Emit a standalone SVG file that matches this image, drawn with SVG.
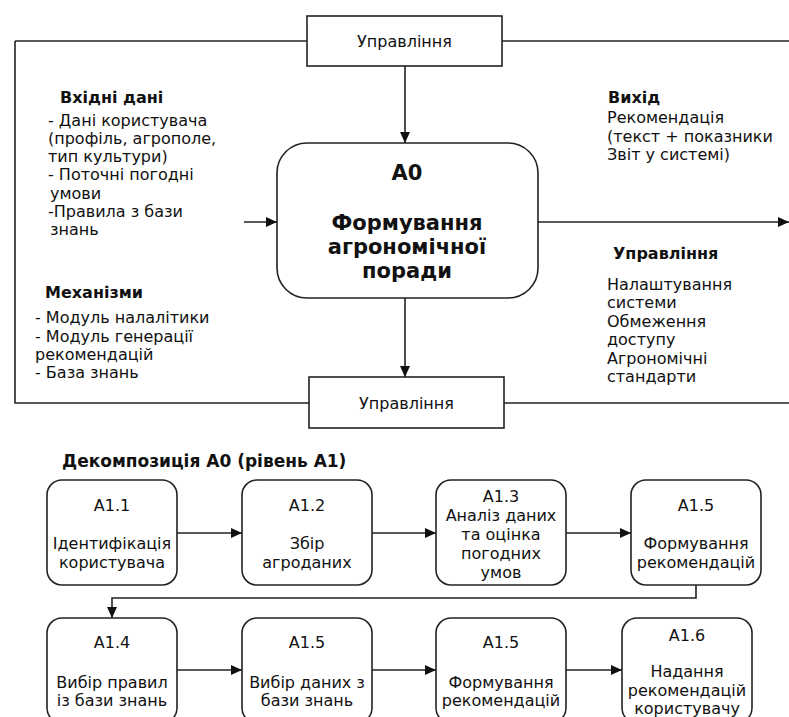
<svg xmlns="http://www.w3.org/2000/svg" width="789" height="717" viewBox="0 0 789 717">
<defs>
<marker id="arr" markerUnits="userSpaceOnUse" markerWidth="12" markerHeight="10" refX="11" refY="5" orient="auto">
<path d="M0,0 L11,5 L0,10 Z" fill="#111"/>
</marker>
<style>
.ln{fill:none;stroke:#222;stroke-width:1.6}
.ar{fill:none;stroke:#222;stroke-width:1.6;marker-end:url(#arr)}
.box{fill:#fff;stroke:#222;stroke-width:1.6}
.t{font-family:"DejaVu Sans","Liberation Sans",sans-serif;font-size:16px;fill:#111}
.b{font-family:"DejaVu Sans","Liberation Sans",sans-serif;font-size:16px;font-weight:bold;fill:#111}
.big{font-family:"DejaVu Sans","Liberation Sans",sans-serif;font-size:21px;font-weight:bold;fill:#111}
.c{text-anchor:middle}
</style>
</defs>
<rect width="789" height="717" fill="#fff"/>
<g id="connectors">
<path class="ln" d="M15,41 H307"/>
<path class="ln" d="M502,41 H789"/>
<path class="ln" d="M15,41 V403 H309"/>
<path class="ln" d="M504,403 H789"/>
<path class="ar" d="M405,66 V143"/>
<path class="ar" d="M405,298 V377"/>
<path class="ar" d="M244,222 H277"/>
<path class="ar" d="M538,222 H789"/>
<path class="ar" d="M177,533 H242"/>
<path class="ar" d="M372,533 H436"/>
<path class="ar" d="M566,533 H631"/>
<path class="ar" d="M696,585 V598 H112 V618"/>
<path class="ar" d="M177,670 H242"/>
<path class="ar" d="M372,670 H436"/>
<path class="ar" d="M566,670 H622"/>
</g>
<g id="ctrl-top">
<rect class="box" x="307" y="16" width="195" height="50"/>
<text class="t c" x="404.5" y="47">Управління</text>
</g>
<g id="ctrl-bottom">
<rect class="box" x="309" y="377" width="195" height="51"/>
<text class="t c" x="406.5" y="409">Управління</text>
</g>
<g id="a0">
<rect class="box" x="277" y="143" width="261" height="155" rx="30"/>
<text class="big c" x="407" y="180">A0</text>
<text class="big c" x="407" y="230">Формування</text>
<text class="big c" x="407" y="254">агрономічної</text>
<text class="big c" x="407" y="278">поради</text>
</g>
<g id="inputs">
<text class="b" x="60" y="103">Вхідні дані</text>
<text class="t" x="48" y="126">- Дані користувача</text>
<text class="t" x="48" y="144">(профіль, агрополе,</text>
<text class="t" x="48" y="162">тип культури)</text>
<text class="t" x="48" y="180">- Поточні погодні</text>
<text class="t" x="50" y="199">умови</text>
<text class="t" x="48" y="217">-Правила з бази</text>
<text class="t" x="50" y="235">знань</text>
</g>
<g id="mechanisms">
<text class="b" x="45" y="298">Механізми</text>
<text class="t" x="35" y="323">- Модуль налалітики</text>
<text class="t" x="35" y="342">- Модуль генерації</text>
<text class="t" x="35" y="360">рекомендацій</text>
<text class="t" x="35" y="378">- База знань</text>
</g>
<g id="output">
<text class="b" x="608" y="103">Вихід</text>
<text class="t" x="607" y="123">Рекомендація</text>
<text class="t" x="607" y="142">(текст + показники</text>
<text class="t" x="607" y="160">Звіт у системі)</text>
</g>
<g id="controls">
<text class="b" x="613" y="259">Управління</text>
<text class="t" x="607" y="290">Налаштування</text>
<text class="t" x="607" y="308">системи</text>
<text class="t" x="607" y="327">Обмеження</text>
<text class="t" x="607" y="345">доступу</text>
<text class="t" x="607" y="364">Агрономічні</text>
<text class="t" x="607" y="382">стандарти</text>
</g>
<g id="decomp-title">
<text class="b" x="62" y="467" style="font-size:17px">Декомпозиція A0 (рівень A1)</text>
</g>
<g id="a11">
<rect class="box" x="47" y="480" width="130" height="105" rx="15"/>
<text class="t c" x="112" y="511">A1.1</text>
<text class="t c" x="112" y="549">Ідентифікація</text>
<text class="t c" x="112" y="568">користувача</text>
</g>
<g id="a12">
<rect class="box" x="242" y="480" width="130" height="105" rx="15"/>
<text class="t c" x="307" y="511">A1.2</text>
<text class="t c" x="307" y="549">Збір</text>
<text class="t c" x="307" y="568">агроданих</text>
</g>
<g id="a13">
<rect class="box" x="436" y="480" width="130" height="105" rx="15"/>
<text class="t c" x="501" y="502">A1.3</text>
<text class="t c" x="501" y="521">Аналіз даних</text>
<text class="t c" x="501" y="540">та оцінка</text>
<text class="t c" x="501" y="559">погодних</text>
<text class="t c" x="501" y="578">умов</text>
</g>
<g id="a15a">
<rect class="box" x="631" y="480" width="130" height="105" rx="15"/>
<text class="t c" x="696" y="511">A1.5</text>
<text class="t c" x="696" y="549">Формування</text>
<text class="t c" x="696" y="568">рекомендацій</text>
</g>
<g id="a14">
<rect class="box" x="47" y="618" width="130" height="105" rx="15"/>
<text class="t c" x="112" y="648">A1.4</text>
<text class="t c" x="112" y="688">Вибір правил</text>
<text class="t c" x="112" y="706">із бази знань</text>
</g>
<g id="a15b">
<rect class="box" x="242" y="618" width="130" height="105" rx="15"/>
<text class="t c" x="307" y="648">A1.5</text>
<text class="t c" x="307" y="688">Вибір даних з</text>
<text class="t c" x="307" y="706">бази знань</text>
</g>
<g id="a15c">
<rect class="box" x="436" y="618" width="130" height="105" rx="15"/>
<text class="t c" x="501" y="648">A1.5</text>
<text class="t c" x="501" y="688">Формування</text>
<text class="t c" x="501" y="706">рекомендацій</text>
</g>
<g id="a16">
<rect class="box" x="622" y="618" width="130" height="105" rx="15"/>
<text class="t c" x="687" y="641">A1.6</text>
<text class="t c" x="687" y="677">Надання</text>
<text class="t c" x="687" y="696">рекомендацій</text>
<text class="t c" x="687" y="714">користувачу</text>
</g>
</svg>
